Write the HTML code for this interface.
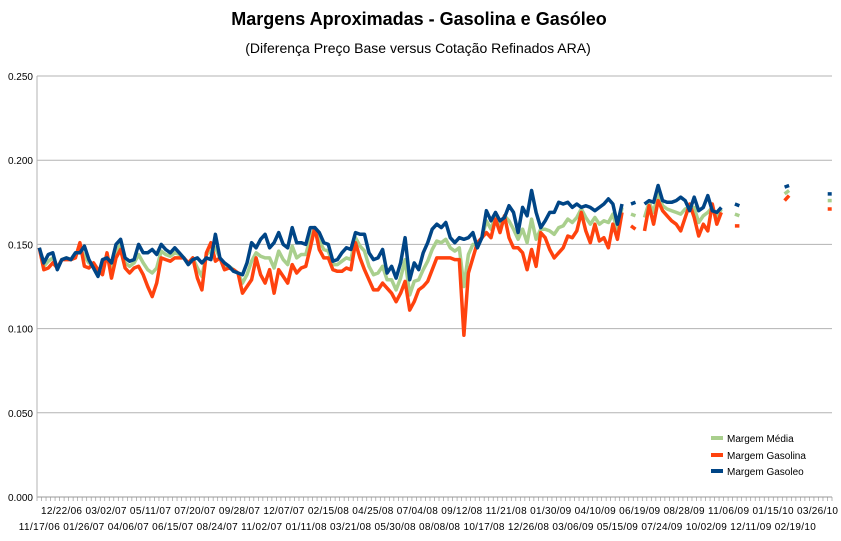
<!DOCTYPE html>
<html><head><meta charset="utf-8"><style>
body{margin:0;background:#fff;}
svg text{font-family:"Liberation Sans",sans-serif;}
</style></head><body>
<svg id="chart" width="841" height="536" viewBox="0 0 841 536" xmlns="http://www.w3.org/2000/svg">
<text x="419" y="25" text-anchor="middle" font-size="18" font-weight="bold">Margens Aproximadas - Gasolina e Gasóleo</text>
<text x="418" y="53" text-anchor="middle" font-size="14">(Diferença Preço Base versus Cotação Refinados ARA)</text>
<g id="grid"></g>
<g id="series"></g>
<g id="xaxis"></g>
<g>
<g><line x1="711" y1="438" x2="723" y2="438" stroke="#a9cf8d" stroke-width="4"/><text x="727" y="442" font-size="10">Margem Média</text></g>
<g><line x1="711" y1="455" x2="723" y2="455" stroke="#ff420e" stroke-width="4"/><text x="727" y="459" font-size="10">Margem Gasolina</text></g>
<g><line x1="711" y1="471" x2="723" y2="471" stroke="#004586" stroke-width="4"/><text x="727" y="475" font-size="10">Margem Gasoleo</text></g>
</g>
</svg>
<script>
const N = null;
const gasoleo = [.148,.139,.144,.145,.135,.141,.142,.141,.145,.145,.149,.141,.136,.131,.141,.142,.139,.150,.153,.142,.140,.141,.150,.145,.145,.147,.144,.150,.147,.145,.148,
.145,.142,.138,.141,.142,.139,.142,.141,.156,.142,.139,.137,.134,.133,.132,.139,.151,.148,.153,.156,.148,.151,.157,.150,.148,.160,.151,.151,.150,.160,
.160,.157,.151,.150,.140,.141,.145,.148,.147,.157,.156,.156,.145,.141,.142,.147,.133,.137,.130,.139,.154,.129,.139,.135,.145,.151,.159,.162,.160,
.163,.154,.151,.154,.153,.154,.157,.148,.154,.170,.164,.169,.164,.166,.173,.169,.157,.172,.167,.182,.169,.160,.164,.169,.169,.175,.174,.175,.172,.174,
.172,.173,.172,.170,.172,.174,.177,.174,.162,.174,
N,.174,.175,N,
.174,.176,.175,.185,.176,.175,.175,.176,.178,.176,.170,.178,.170,.172,.179,.170,.169,.172,
N,N,.174,.173,N,N,N,N,N,N,N,N,N,.184,.185,N,N,N,N,N,N,N,N,.180];
const gasolina = [.148,.135,.136,.139,.136,.141,.141,.141,.142,.151,.137,.136,.139,.135,.132,.145,.130,.142,.147,.136,.133,.136,.137,.132,.125,.119,.127,.142,.141,.140,.142,
.142,.142,.139,.142,.130,.123,.145,.151,.140,.142,.135,.136,.135,.133,.121,.125,.129,.142,.132,.127,.135,.121,.135,.131,.127,.138,.133,.136,.137,.148,
.160,.147,.142,.142,.135,.134,.134,.136,.135,.151,.142,.135,.129,.123,.123,.127,.124,.121,.116,.121,.128,.111,.116,.123,.125,.128,.135,.142,.142,
.142,.142,.141,.141,.096,.133,.142,.151,.154,.157,.154,.165,.157,.167,.154,.148,.148,.145,.135,.147,.137,.157,.154,.147,.142,.145,.148,.155,.154,.158,
.169,.158,.151,.162,.152,.154,.148,.162,.153,.169,
N,.161,.159,N,
.158,.173,.162,.176,.170,.167,.164,.162,.158,.166,.174,.166,.155,.162,.158,.174,.162,.169,
N,N,.161,.161,N,N,N,N,N,N,N,N,N,.176,.179,N,N,N,N,N,N,N,N,.171];
const media = [.148,.137,.140,.142,.136,.141,.142,.141,.144,.148,.143,.139,.138,.133,.137,.144,.135,.146,.150,.139,.137,.139,.144,.139,.135,.133,.136,.146,.144,.143,.145,
.144,.142,.139,.142,.136,.131,.144,.146,.148,.142,.137,.137,.135,.133,.127,.132,.140,.145,.143,.142,.142,.136,.146,.141,.138,.149,.142,.144,.144,.154,
.160,.152,.147,.146,.138,.138,.140,.142,.141,.154,.149,.146,.137,.132,.133,.137,.129,.129,.123,.130,.141,.120,.128,.129,.135,.140,.147,.152,.151,
.153,.148,.146,.148,.125,.144,.150,.150,.154,.164,.159,.167,.161,.167,.164,.159,.153,.159,.151,.165,.153,.159,.159,.158,.156,.160,.161,.165,.163,.166,
.171,.166,.162,.166,.162,.164,.163,.168,.158,.172,
N,.168,.167,N,
.166,.175,.169,.181,.173,.171,.170,.169,.168,.171,.172,.172,.163,.167,.169,.172,.166,.171,
N,N,.168,.167,N,N,N,N,N,N,N,N,N,.180,.182,N,N,N,N,N,N,N,N,.176];
const yTicks = ["0.000","0.050","0.100","0.150","0.200","0.250"];
const yTickValues = [0,0.05,0.1,0.15,0.2,0.25];
const labelsTop = ["12/22/06","03/02/07","05/11/07","07/20/07","09/28/07","12/07/07","02/15/08","04/25/08","07/04/08","09/12/08","11/21/08","01/30/09","04/10/09","06/19/09","08/28/09","11/06/09","01/15/10","03/26/10"];
const labelsBottom = ["11/17/06","01/26/07","04/06/07","06/15/07","08/24/07","11/02/07","01/11/08","03/21/08","05/30/08","08/08/08","10/17/08","12/26/08","03/06/09","05/15/09","07/24/09","10/02/09","12/11/09","02/19/10"];

const NS="http://www.w3.org/2000/svg";
const X0=37, X1=832, Y0=497, Y1=76, n=gasoleo.length;
const step=(X1-X0)/n;
function xs(i){return X0+step*(i+0.5);}
function ys(v){return Y0-(v/0.25)*(Y0-Y1);}
function mk(tag,parent){const e=document.createElementNS(NS,tag);parent.appendChild(e);return e;}
const grid=document.getElementById('grid');
yTickValues.forEach((v,k)=>{
  const l=mk('line',grid);
  
  
  l.setAttribute('x1',X0);l.setAttribute('x2',X1);l.setAttribute('y1',ys(v));l.setAttribute('y2',ys(v));
  l.setAttribute('stroke',v===0?'#999':'#b3b3b3');l.setAttribute('stroke-width','1');
  const t=mk('text',grid);
  
  
  t.setAttribute('x',X0-4);t.setAttribute('y',ys(v)+4);t.setAttribute('text-anchor','end');t.setAttribute('font-size','10');
  t.textContent=yTicks[k];
});
const ax=mk('line',grid);


ax.setAttribute('x1',X0);ax.setAttribute('x2',X0);ax.setAttribute('y1',Y1);ax.setAttribute('y2',Y0);ax.setAttribute('stroke','#b3b3b3');
const xa=document.getElementById('xaxis');
for(let i=0;i<=n;i++){
  const t=mk('line',xa);
  
  
  const x=X0+step*i;
  t.setAttribute('x1',x);t.setAttribute('x2',x);t.setAttribute('y1',Y0);t.setAttribute('y2',Y0+4);t.setAttribute('stroke','#999');t.setAttribute('stroke-width','0.7');
}
function lab(arr,first,yy){
  arr.forEach((s,k)=>{
    const w=first+k*10;
    const t=mk('text',xa);
    
    
    t.setAttribute('x',xs(w)-w*0.07);t.setAttribute('y',yy);t.setAttribute('text-anchor','middle');t.setAttribute('font-size','10');t.setAttribute('textLength','41');
    t.textContent=s;
  });
}
lab(labelsTop,5,514);
lab(labelsBottom,0,530);
const sg=document.getElementById('series');
function draw(data,color,name){
  let segs=[],cur=[];
  data.forEach((v,i)=>{ if(v===null){if(cur.length)segs.push(cur);cur=[];} else cur.push([xs(i),ys(v)]); });
  if(cur.length)segs.push(cur);
  segs.forEach(s=>{
    if(s.length===1) s=[[s[0][0]-2,s[0][1]],[s[0][0]+2,s[0][1]]];
    const p=mk('polyline',sg);
    
    
    p.setAttribute('points',s.map(q=>q[0].toFixed(1)+','+q[1].toFixed(1)).join(' '));
    p.setAttribute('fill','none');p.setAttribute('stroke',color);p.setAttribute('stroke-width','3.5');p.setAttribute('stroke-linejoin','round');
  });
}
draw(media,'#a9cf8d','line-margem-media');
draw(gasolina,'#ff420e','line-margem-gasolina');
draw(gasoleo,'#004586','line-margem-gasoleo');
</script>
</body></html>
